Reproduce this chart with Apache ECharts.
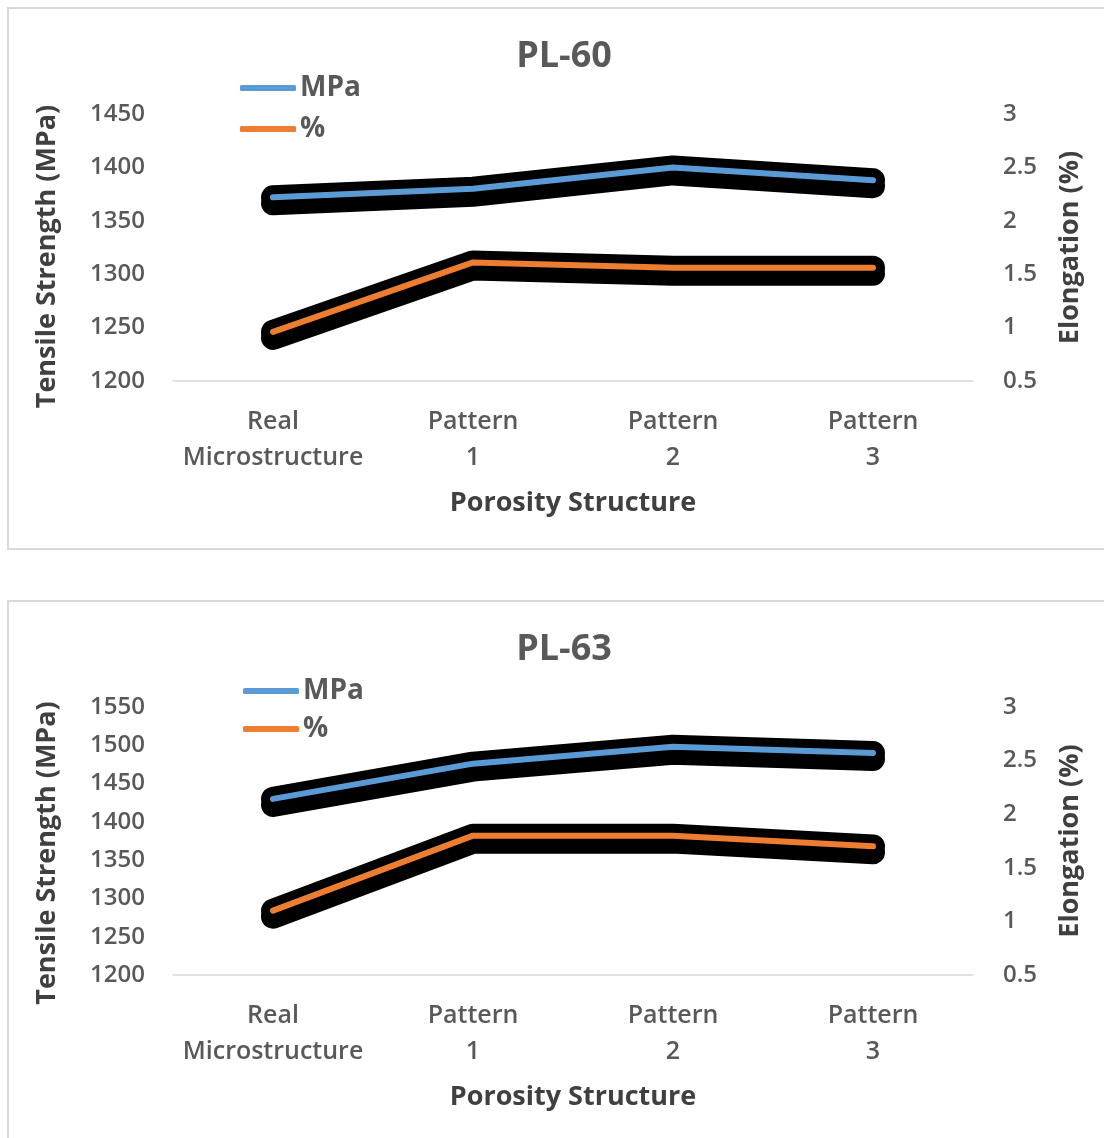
<!DOCTYPE html>
<html>
<head>
<meta charset="utf-8">
<script src="https://cdn.jsdelivr.net/npm/echarts@6/dist/echarts.min.js"></script>
<style>
html,body{margin:0;padding:0;background:#fff;}
#chart{width:1104px;height:1138px;}
</style>
</head>
<body>
<div id="chart"></div>
<script>
var categories = ['Real\nMicrostructure', 'Pattern\n1', 'Pattern\n2', 'Pattern\n3'];
var pl60Titles = 'PL-60';
var pl63Titles = 'PL-63';
var pl60MPa = [1372, 1380, 1400, 1388];
var pl60Elong = [0.96, 1.61, 1.56, 1.56];
var pl63MPa = [1430, 1476, 1498, 1490];
var pl63Elong = [1.10, 1.80, 1.80, 1.70];
var mpaTicks1 = {min: 1200, max: 1450, interval: 50};
var mpaTicks2 = {min: 1200, max: 1550, interval: 50};
var elongTicks = {min: 0.5, max: 3, interval: 0.5};

var FONT = "'Open Sans', 'Noto Sans', sans-serif";
var BLUE = '#5B9BD5', ORANGE = '#ED7D31';
var TICK = '#595959', NAME = '#404040';

function yLeft(gi, t, shift) {
  return {
    type: 'value', gridIndex: gi, position: 'left', min: t.min, max: t.max, interval: t.interval,
    name: 'Tensile Strength (MPa)', nameLocation: 'middle', nameRotate: 90, nameGap: 112,
    nameTextStyle: {fontFamily: FONT, fontSize: 27, fontWeight: 'bold', color: NAME, padding: [0, shift, 0, 0]},
    axisLine: {show: false}, axisTick: {show: false}, splitLine: {show: false},
    axisLabel: {fontFamily: FONT, fontSize: 24, fontWeight: 600, color: TICK, margin: 28,
      formatter: function (v) { return String(v); }}
  };
}
function yRight(gi, t) {
  return {
    type: 'value', gridIndex: gi, position: 'right', min: t.min, max: t.max, interval: t.interval,
    name: 'Elongation (%)', nameLocation: 'middle', nameRotate: 90, nameGap: 84,
    nameTextStyle: {fontFamily: FONT, fontSize: 27, fontWeight: 'bold', color: NAME},
    axisLine: {show: false}, axisTick: {show: false}, splitLine: {show: false},
    axisLabel: {fontFamily: FONT, fontSize: 24, fontWeight: 600, color: TICK, margin: 30,
      formatter: function (v) { return String(v); }}
  };
}
function xAx(gi) {
  return {
    type: 'category', gridIndex: gi, data: categories, boundaryGap: true,
    name: 'Porosity Structure', nameLocation: 'middle', nameGap: 109,
    nameTextStyle: {fontFamily: FONT, fontSize: 27, fontWeight: 'bold', color: NAME},
    axisLine: {lineStyle: {color: '#d9d9d9', width: 1.5}}, axisTick: {show: false},
    axisLabel: {fontFamily: FONT, fontSize: 25, fontWeight: 600, color: TICK, margin: 23, lineHeight: 36, interval: 0}
  };
}
function shadowSeries(name, xi, yi, data) {
  return {
    name: name, type: 'line', xAxisIndex: xi, yAxisIndex: yi, data: data, symbol: 'none', z: 1,
    silent: true,
    lineStyle: {color: '#000', width: 24, cap: 'round', join: 'round',
      shadowColor: '#000', shadowBlur: 0, shadowOffsetY: 6}
  };
}
function mainSeries(name, xi, yi, data, color) {
  return {
    name: name, type: 'line', xAxisIndex: xi, yAxisIndex: yi, data: data, symbol: 'none', z: 3,
    itemStyle: {color: color},
    lineStyle: {color: color, width: 6, cap: 'round', join: 'round'}
  };
}
function legend(left, top, gap) {
  return {
    data: ['MPa', '%'], orient: 'vertical', left: left, top: top, itemGap: gap,
    icon: 'roundRect', itemWidth: 56, itemHeight: 6,
    textStyle: {fontFamily: FONT, fontSize: 28, fontWeight: 'bold', color: TICK, lineHeight: 28, padding: [0, 0, 0, -1]}
  };
}

var option = {
  animation: false,
  backgroundColor: '#fff',
  graphic: [
    {type: 'rect', shape: {x: 8, y: 8, width: 1110, height: 541}, style: {fill: 'none', stroke: '#d9d9d9', lineWidth: 2}, z: -1},
    {type: 'rect', shape: {x: 8, y: 601, width: 1110, height: 560}, style: {fill: 'none', stroke: '#d9d9d9', lineWidth: 2}, z: -1}
  ],
  title: [
    {text: pl60Titles, left: 559, top: 34, textAlign: 'center', textStyle: {fontFamily: FONT, fontSize: 36, fontWeight: 'bold', color: TICK}},
    {text: pl63Titles, left: 559, top: 627, textAlign: 'center', textStyle: {fontFamily: FONT, fontSize: 36, fontWeight: 'bold', color: TICK}}
  ],
  legend: [legend(235, 69, 13), legend(238, 672, 10)],
  grid: [
    {left: 173, width: 800, top: 114, height: 267},
    {left: 173, width: 800, top: 707, height: 268}
  ],
  xAxis: [xAx(0), xAx(1)],
  yAxis: [yLeft(0, mpaTicks1, 18), yRight(0, elongTicks), yLeft(1, mpaTicks2, 24), yRight(1, elongTicks)],
  series: [
    shadowSeries('s60a', 0, 0, pl60MPa),
    shadowSeries('s60b', 0, 1, pl60Elong),
    shadowSeries('s63a', 1, 2, pl63MPa),
    shadowSeries('s63b', 1, 3, pl63Elong),
    mainSeries('MPa', 0, 0, pl60MPa, BLUE),
    mainSeries('%', 0, 1, pl60Elong, ORANGE),
    mainSeries('MPa', 1, 2, pl63MPa, BLUE),
    mainSeries('%', 1, 3, pl63Elong, ORANGE)
  ]
};
echarts.init(document.getElementById('chart')).setOption(option);
</script>
</body>
</html>
